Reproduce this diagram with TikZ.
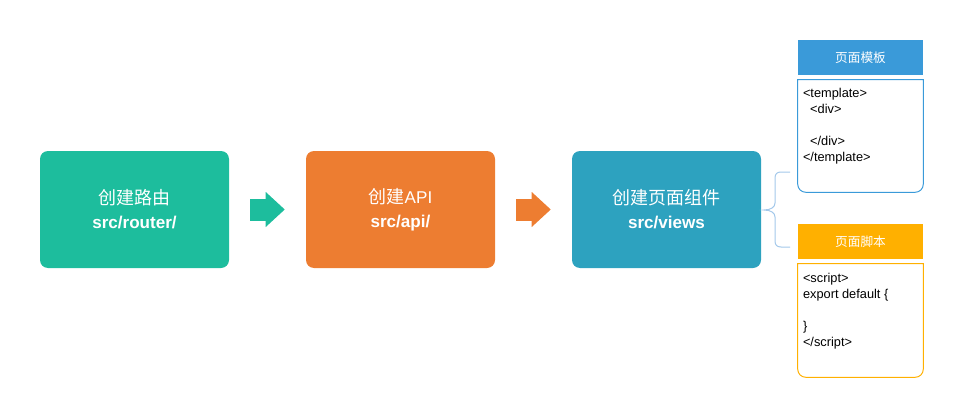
\documentclass[tikz,border=0pt]{standalone}
\usepackage{fontspec}
\setmainfont{Liberation Sans}
\newfontfamily\cjk{Noto Sans CJK SC}
\usetikzlibrary{arrows.meta}
\definecolor{routegreen}{HTML}{1DBD9D}
\definecolor{apiorange}{HTML}{ED7D31}
\definecolor{viewblue}{HTML}{2DA2BF}
\definecolor{tplblue}{HTML}{3A9AD9}
\definecolor{scriptamber}{HTML}{FFB000}
\definecolor{bracelight}{HTML}{A3C8EA}
\newcommand{\zh}[1]{{\cjk\fontsize{13.5}{18}\selectfont #1}}

\begin{document}
\begin{tikzpicture}[x=0.75pt, y=-0.75pt,
  stage/.style={rounded corners=6pt, minimum width=141.75pt, minimum height=87.75pt,
                align=center, text=white, font=\fontsize{12.8}{18}\selectfont},
  flow/.style={line width=16.5pt, -{Triangle[length=14.25pt, width=26.25pt, line width=0pt]},
               shorten <=15.75pt, shorten >=15.75pt},
  head/.style={minimum width=93.75pt, minimum height=26.25pt, inner sep=0pt,
               text=white, font=\cjk\fontsize{9.5}{11}\selectfont},
  panel/.style={minimum width=93.75pt, minimum height=84pt, inner sep=0pt},
  code/.style={anchor=north west, align=left, inner sep=0pt, font=\fontsize{9.6}{12}\selectfont}]
  \useasboundingbox (0,0) rectangle (961,414);
  % Stages
  \node[stage, fill=routegreen] (router) at (134.5,209.5) {\zh{创建路由}\\\textbf{src/router/}};
  \node[stage, fill=apiorange] (api) at (400.5,209.5) {\zh{创建}API\\\textbf{src/api/}};
  \node[stage, fill=viewblue] (views) at (666.5,209.5) {\zh{创建页面组件}\\\textbf{src/views}};
  % Flow arrows
  \draw[flow, routegreen] (router) -- (api);
  \draw[flow, apiorange] (api) -- (views);
  % Page template
  \node[head, fill=tplblue] (tplhead) at (860.5,57.5) {页面模板};
  \node[panel] (tplbox) at (860.5,136) {};
  \draw[tplblue, line width=0.75pt] (tplbox.north east) -- (tplbox.north west)
    [rounded corners=6pt] -- (tplbox.south west) -- (tplbox.south east) [sharp corners] -- cycle;
  \node[code] (tplcode) at ([shift={(5,8)}]tplbox.north west)
    {<template>\\\hspace*{0.56em}<div>\\\mbox{}\\\hspace*{0.56em}</div>\\</template>};
  % Page script
  \node[head, fill=scriptamber] (scripthead) at (860.5,241.5) {页面脚本};
  \node[panel, minimum height=84.75pt] (scriptbox) at (860.5,320.5) {};
  \draw[scriptamber, line width=0.75pt] (scriptbox.north east) -- (scriptbox.north west)
    [rounded corners=6pt] -- (scriptbox.south west) -- (scriptbox.south east) [sharp corners] -- cycle;
  \node[code] (scriptcode) at ([shift={(5,9)}]scriptbox.north west)
    {<script>\\export default \{\\\mbox{}\\\}\\</script>};
  % Brace
  \draw[bracelight, line width=0.75pt] (790,172) -- (781,172) .. controls (777,172) and (775,174) .. (775,178)
    -- (775,203) .. controls (775,207) and (771,210) .. (764,210)
    .. controls (771,210) and (775,213) .. (775,217) -- (775,241)
    .. controls (775,245) and (777,247) .. (781,247) -- (790,247);
\end{tikzpicture}
\end{document}
